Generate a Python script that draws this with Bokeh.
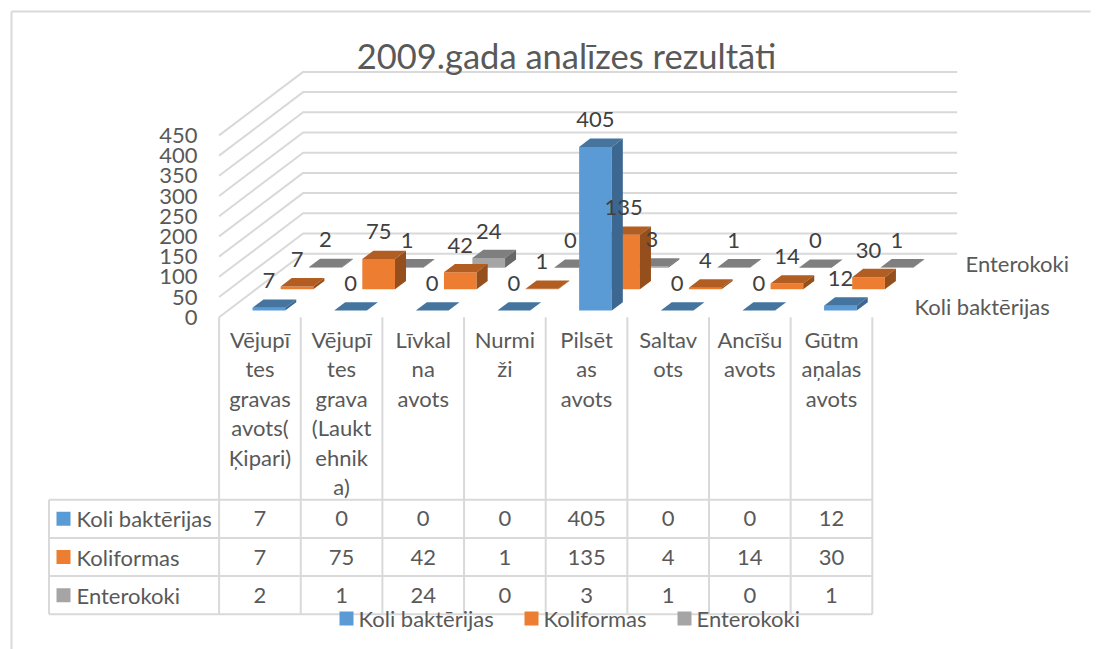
from bokeh.plotting import figure
from bokeh.models import Range1d
from bokeh.core.properties import value
from bokeh.embed import file_html
from bokeh.resources import INLINE

title = "2009.gada analīzes rezultāti"
series = ["Koli baktērijas", "Koliformas", "Enterokoki"]
koli = [7, 0, 0, 0, 405, 0, 0, 12]
koliformas = [7, 75, 42, 1, 135, 4, 14, 30]
enterokoki = [2, 1, 24, 0, 3, 1, 0, 1]
values = [koli, koliformas, enterokoki]
axis_ticks = [0, 50, 100, 150, 200, 250, 300, 350, 400, 450]
category_lines = [
    ["Vējupī", "tes", "gravas", "avots(", "Ķipari)"],
    ["Vējupī", "tes", "grava", "(Laukt", "ehnik", "a)"],
    ["Līvkal", "na", "avots"],
    ["Nurmi", "ži"],
    ["Pilsēt", "as", "avots"],
    ["Saltav", "ots"],
    ["Ancīšu", "avots"],
    ["Gūtm", "aņalas", "avots"],
]
fills = [
    ("#5B9BD5", "#45759F", "#3C6791"),
    ("#ED7D31", "#B25E22", "#954F1C"),
    ("#A5A5A5", "#7F7F7F", "#686868"),
]
GRID = "#D9D9D9"
TEXT = "#595959"
LABEL = "#404040"
FONT = value("Lato")
FS = "22px"

W, H = 1105, 649

# oblique projection of the Excel 3-D chart
X0, Y0 = 218.6, 316.7
CAT = 81.65
PX = 0.404          # pixels per value unit
DX, DY = 84.0, -63.5  # full depth of the floor
SERIES_Z = [0.105, 0.44, 0.778]
BAR_DEPTH = 0.131
BAR_GAP = 24.6
BAR_W = 32.7


def proj(cat, val, z):
    return X0 + cat * CAT + z * DX, Y0 - val * PX + z * DY


p = figure(width=W, height=H, x_range=Range1d(0, W), y_range=Range1d(H, 0),
           output_backend="svg", toolbar_location=None, min_border=0,
           x_axis_location=None, y_axis_location=None, outline_line_color=None,
           background_fill_color="white", border_fill_color="white")
p.grid.visible = False

# chart frame
p.line([11, 11], [650, 11], line_color=GRID, line_width=2)
p.line([11, 1090], [11, 11], line_color=GRID, line_width=2)

# walls' gridlines
ncat = len(koli)
for t in axis_ticks:
    xa, ya = proj(0, t, 0)
    xb, yb = proj(0, t, 1)
    xc, yc = proj(ncat + 0.01, t, 1)
    p.line([xa, xb, xc], [ya, yb, yc], line_color=GRID, line_width=2)

# bars, back to front
xs, ys, cols = [], [], []
for s in (2, 1, 0):
    z0 = SERIES_Z[s]
    z1 = z0 + BAR_DEPTH
    for c, v in enumerate(values[s]):
        l = c + BAR_GAP / CAT
        r = c + (BAR_GAP + BAR_W) / CAT
        corners = [
            [(l, v, z0), (r, v, z0), (r, 0, z0), (l, 0, z0)],
            [(l, v, z0), (r, v, z0), (r, v, z1), (l, v, z1)],
            [(r, v, z0), (r, v, z1), (r, 0, z1), (r, 0, z0)],
        ]
        for face, col in zip(corners, fills[s]):
            pts = [proj(*q) for q in face]
            xs.append([q[0] for q in pts])
            ys.append([q[1] for q in pts])
            cols.append(col)
p.patches(xs, ys, fill_color=cols, line_color=None)

# data labels
lx, ly, lt = [], [], []
for s in (2, 1, 0):
    for c, v in enumerate(values[s]):
        x, y = proj(c + (BAR_GAP + BAR_W / 2) / CAT, v, SERIES_Z[s])
        lx.append(x); ly.append(y - 27); lt.append(str(v))
p.text(lx, ly, text=lt, text_font=FONT, text_font_size=FS, text_color=LABEL,
       text_align="center", text_baseline="middle")

# value axis
p.text([197] * len(axis_ticks), [proj(0, t, 0)[1] for t in axis_ticks], text=[str(t) for t in axis_ticks],
       text_font=FONT, text_font_size=FS, text_color=TEXT, text_align="right", text_baseline="middle")

# depth axis labels
p.text([965, 914], [263, 306], text=[series[2], series[0]], text_font=FONT, text_font_size=FS,
       text_color=TEXT, text_align="left", text_baseline="middle")

# title
p.text([566], [55], text=[title], text_font=FONT, text_font_size="34.5px", text_color=TEXT,
       text_align="center", text_baseline="middle")

# table
TOP, ROW = 499.2, 38.2
LEFT = 48.5
rows = len(series)
bottom = TOP + rows * ROW
for i in range(rows + 1):
    y = TOP + i * ROW
    p.line([LEFT, proj(ncat, 0, 0)[0]], [y, y], line_color=GRID, line_width=2)
p.line([LEFT, LEFT], [TOP, bottom], line_color=GRID, line_width=2)
for c in range(ncat + 1):
    x = proj(c, 0, 0)[0]
    p.line([x, x], [Y0, bottom], line_color=GRID, line_width=2)

# category labels wrapped in table header
cx, cy, ct = [], [], []
for c, lines in enumerate(category_lines):
    for j, t in enumerate(lines):
        cx.append(proj(c + 0.5, 0, 0)[0]); cy.append(339 + j * 29.4); ct.append(t)
p.text(cx, cy, text=ct, text_font=FONT, text_font_size=FS, text_color=TEXT,
       text_align="center", text_baseline="middle")

# table body
tx, ty, tt = [], [], []
for s in range(rows):
    for c, v in enumerate(values[s]):
        tx.append(proj(c + 0.5, 0, 0)[0]); ty.append(TOP + (s + 0.5) * ROW); tt.append(str(v))
p.text(tx, ty, text=tt, text_font=FONT, text_font_size=FS, text_color=TEXT,
       text_align="center", text_baseline="middle")

# legend keys in table
ky = [TOP + (s + 0.5) * ROW for s in range(rows)]
p.rect([63] * rows, ky, width=14, height=14, fill_color=[f[0] for f in fills], line_color=None)
p.text([76] * rows, ky, text=series, text_font=FONT, text_font_size=FS, text_color=TEXT,
       text_align="left", text_baseline="middle")

# bottom legend
legend_x = [346, 531, 684]
p.rect(legend_x, [618] * rows, width=14, height=14, fill_color=[f[0] for f in fills], line_color=None)
p.text([x + 12 for x in legend_x], [617.5] * rows, text=series, text_font=FONT, text_font_size=FS,
       text_color=TEXT, text_align="left", text_baseline="middle")

open("out.html", "w").write(file_html(p, INLINE))
